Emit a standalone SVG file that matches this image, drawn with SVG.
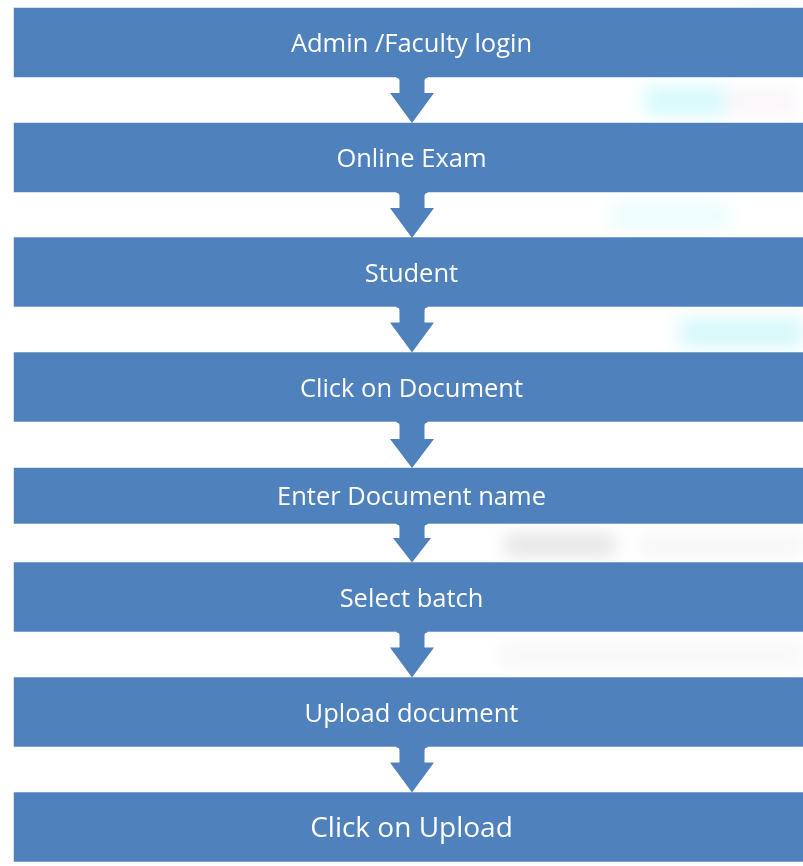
<svg xmlns="http://www.w3.org/2000/svg" width="803" height="866" viewBox="0 0 803 866">
  <style>
    .box { fill: #4F81BD; stroke: #ffffff; stroke-opacity: 0.55; stroke-width: 1; }
    .lbl { fill: #ffffff; font-family: "Open Sans", "Liberation Sans", sans-serif; font-size: 25.5px; text-anchor: middle; }
    .big { font-size: 28px; }
    .arrow { fill: #4F81BD; }
    .haze { filter: url(#blur); }
  </style>
  <defs>
    <filter id="blur" x="-20%" y="-20%" width="140%" height="140%">
      <feGaussianBlur stdDeviation="9"/>
    </filter>
  </defs>
  <rect width="803" height="866" fill="#ffffff"/>
  <g id="background-haze" class="haze">
    <rect x="645" y="86" width="80" height="30" fill="#c8f8fb" opacity="0.75"/>
    <rect x="725" y="90" width="70" height="24" fill="#f6eef6" opacity="0.6"/>
    <rect x="610" y="202" width="120" height="28" fill="#e3fbfb" opacity="0.6"/>
    <rect x="680" y="318" width="123" height="30" fill="#c8f6fa" opacity="0.75"/>
    <rect x="740" y="0" width="63" height="6" fill="#d8f8fa" opacity="0.6"/>
    <rect x="505" y="534" width="110" height="22" fill="#d2d2d2" opacity="0.6"/>
    <rect x="640" y="536" width="163" height="18" fill="#ececec" opacity="0.5"/>
    <rect x="500" y="644" width="303" height="22" fill="#f0f0f0" opacity="0.5"/>
  </g>
  <g id="node-1"><rect class="box" x="13.5" y="7.5" width="800" height="70"/><text class="lbl" x="411.5" y="52">Admin /Faculty login</text></g>
  <g id="node-2"><rect class="box" x="13.5" y="122.5" width="800" height="70"/><text class="lbl" x="411.5" y="167">Online Exam</text></g>
  <g id="node-3"><rect class="box" x="13.5" y="237" width="800" height="70"/><text class="lbl" x="411.5" y="281.5">Student</text></g>
  <g id="node-4"><rect class="box" x="13.5" y="352" width="800" height="70"/><text class="lbl" x="411.5" y="396.5">Click on Document</text></g>
  <g id="node-5"><rect class="box" x="13.5" y="467.5" width="800" height="56.5"/><text class="lbl" x="411.5" y="505">Enter Document name</text></g>
  <g id="node-6"><rect class="box" x="13.5" y="562" width="800" height="70"/><text class="lbl" x="411.5" y="606.5">Select batch</text></g>
  <g id="node-7"><rect class="box" x="13.5" y="677" width="800" height="70"/><text class="lbl" x="411.5" y="721.5">Upload document</text></g>
  <g id="node-8"><rect class="box" x="13.5" y="792" width="800" height="70"/><text class="lbl big" x="411.5" y="836.5">Click on Upload</text></g>
  <g id="connectors">
    <path class="arrow" d="M396.5,78 Q399.5,78 399.5,81 L399.5,93 L390,93 L412,123 L434,93 L424.5,93 L424.5,81 Q424.5,78 427.5,78 L427.5,76.5 L396.5,76.5 Z"/>
    <path class="arrow" d="M396.5,193 Q399.5,193 399.5,196 L399.5,208 L390,208 L412,238 L434,208 L424.5,208 L424.5,196 Q424.5,193 427.5,193 L427.5,191.5 L396.5,191.5 Z"/>
    <path class="arrow" d="M396.5,307.5 Q399.5,307.5 399.5,310.5 L399.5,322.5 L390,322.5 L412,352.5 L434,322.5 L424.5,322.5 L424.5,310.5 Q424.5,307.5 427.5,307.5 L427.5,306 L396.5,306 Z"/>
    <path class="arrow" d="M396.5,422.5 Q399.5,422.5 399.5,425.5 L399.5,439 L390,439 L412,468 L434,439 L424.5,439 L424.5,425.5 Q424.5,422.5 427.5,422.5 L427.5,421 L396.5,421 Z"/>
    <path class="arrow" d="M396.5,524.5 Q399.5,524.5 399.5,527.5 L399.5,538 L393,538 L412,562.5 L431,538 L424.5,538 L424.5,527.5 Q424.5,524.5 427.5,524.5 L427.5,523 L396.5,523 Z"/>
    <path class="arrow" d="M396.5,632.5 Q399.5,632.5 399.5,635.5 L399.5,647.5 L390,647.5 L412,677.5 L434,647.5 L424.5,647.5 L424.5,635.5 Q424.5,632.5 427.5,632.5 L427.5,631 L396.5,631 Z"/>
    <path class="arrow" d="M396.5,747.5 Q399.5,747.5 399.5,750.5 L399.5,762.5 L390,762.5 L412,792.5 L434,762.5 L424.5,762.5 L424.5,750.5 Q424.5,747.5 427.5,747.5 L427.5,746 L396.5,746 Z"/>
  </g>
</svg>
